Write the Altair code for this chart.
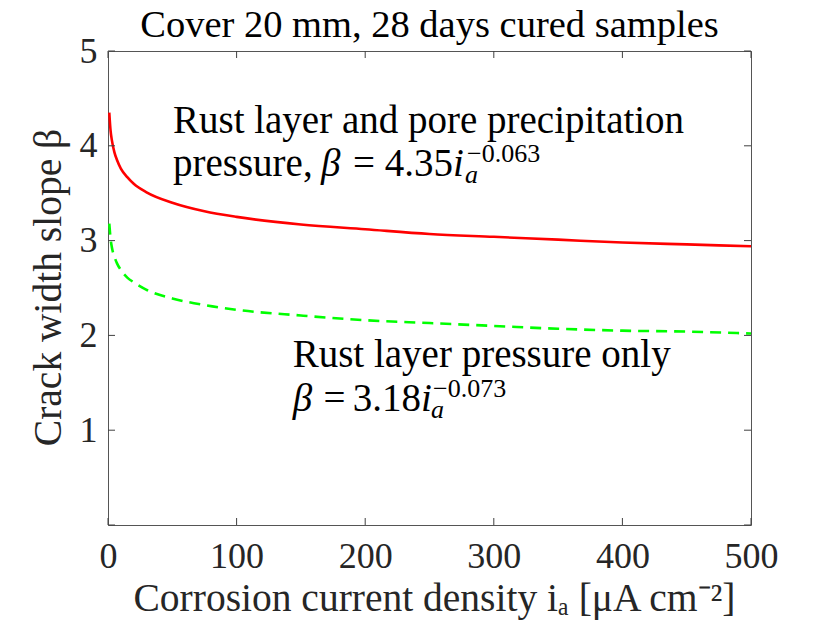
import altair as alt
import pandas as pd

# ---- data ----
ia_vals = [1, 2, 3, 5, 7, 10, 15, 20, 30, 50, 75, 100, 150, 200, 250, 300, 350, 400, 450, 500]
beta_rust_pore = [4.35, 4.16, 4.06, 3.93, 3.85, 3.76, 3.67, 3.60, 3.51, 3.40, 3.31, 3.25,
                  3.17, 3.12, 3.07, 3.04, 3.01, 2.98, 2.96, 2.94]
beta_rust_only = [3.18, 3.02, 2.93, 2.83, 2.76, 2.69, 2.61, 2.56, 2.48, 2.39, 2.32, 2.27,
                  2.21, 2.16, 2.13, 2.10, 2.07, 2.05, 2.04, 2.02]
x_ticks = [0, 100, 200, 300, 400, 500]
y_ticks = [1, 2, 3, 4, 5]

title_text = "Cover 20 mm, 28 days cured samples"
x_title = "Corrosion current density iₐ [μA cm⁻²]"
y_title = "Crack width slope β"

# annotation pieces (text, anchor in data units)
ann_text = ["Rust layer and pore precipitation", "pressure,", "β", "=", "4.35", "i", "−0.063", "a",
            "Rust layer pressure only", "β", "=", "3.18", "i", "−0.073", "a",
            title_text]
ann_ia = [50.5, 50.5, 165.6, 190.5, 268.3, 268.3, 279.2, 277.6,
          143.6, 143.6, 167.6, 243.4, 243.4, 252.7, 251.2,
          250.0]
ann_beta = [4.135, 3.681, 3.681, 3.681, 3.681, 3.681, 3.829, 3.608,
            1.667, 1.203, 1.203, 1.203, 1.203, 1.350, 1.129,
            5.148]
ann_kind = ["nl", "nl", "il", "nl", "nr", "il", "sup", "sub",
            "nl", "il", "nl", "nr", "il", "sup", "sub",
            "title"]

FONT = "Liberation Serif"
n = len(ia_vals)
curves = pd.DataFrame({
    "ia": ia_vals * 2,
    "beta": beta_rust_pore + beta_rust_only,
    "series": ["pore"] * n + ["rust"] * n,
})
ann = pd.DataFrame({"ia": ann_ia, "beta": ann_beta, "text": ann_text, "kind": ann_kind})
xt = pd.DataFrame({"ia": x_ticks})
yt = pd.DataFrame({"beta": [0] + y_ticks})

W, H = 643, 474
xscale = alt.Scale(domain=[0, 500], nice=False)
yscale = alt.Scale(domain=[0, 5], nice=False)

x_enc = alt.X("ia:Q", scale=xscale, axis=alt.Axis(
    values=x_ticks, format="d", title=x_title, ticks=False, domain=False, grid=False,
    labelFontSize=36, labelPadding=14, labelBaseline="top", labelFlush=False, labelOverlap=False,
    labelColor="#262626", titleFontSize=39.5, titleFontWeight="normal", titleColor="#262626",
    titleX=326, titleY=85, titleAlign="center", titleBaseline="alphabetic"))
y_enc = alt.Y("beta:Q", scale=yscale, axis=alt.Axis(
    values=y_ticks, format="d", title=y_title, ticks=False, domain=False, grid=False,
    labelFontSize=36, labelPadding=11, labelFlush=False, labelOverlap=False, labelBaseline="middle",
    labelColor="#262626", titleFontSize=39.5, titleFontWeight="normal", titleColor="#262626",
    titleAngle=270, titleX=-47.5, titleY=236, titleAlign="center", titleBaseline="alphabetic"))

base = alt.Chart(curves)
red = base.transform_filter("datum.series == 'pore'").mark_line(
    color="#ff0000", strokeWidth=2.6, interpolate="monotone").encode(x=x_enc, y=y_enc)
green = base.transform_filter("datum.series == 'rust'").mark_line(
    color="#00ff00", strokeWidth=2.6, strokeDash=[11, 7], interpolate="monotone").encode(x=x_enc, y=y_enc)

TL = 7
tick_col = "#404040"
xb = alt.Chart(xt).mark_rule(color=tick_col, strokeWidth=1).encode(x=x_enc, y=alt.value(H), y2=alt.value(H - TL))
xtp = alt.Chart(xt).mark_rule(color=tick_col, strokeWidth=1).encode(x=x_enc, y=alt.value(0), y2=alt.value(TL))
yl = alt.Chart(yt).mark_rule(color=tick_col, strokeWidth=1).encode(y=y_enc, x=alt.value(0), x2=alt.value(TL))
yr = alt.Chart(yt).mark_rule(color=tick_col, strokeWidth=1).encode(y=y_enc, x=alt.value(W), x2=alt.value(W - TL))

def txt(kind, size, style, align):
    return alt.Chart(ann).transform_filter(f"datum.kind == '{kind}'").mark_text(
        font=FONT, fontSize=size, fontStyle=style, align=align, baseline="alphabetic", color="#000000"
    ).encode(x=x_enc, y=y_enc, text="text:N")

texts = [
    txt("nl", 39, "normal", "left"),
    txt("il", 39, "italic", "left"),
    txt("nr", 39, "normal", "right"),
    txt("sup", 26, "normal", "left"),
    txt("sub", 26, "italic", "left"),
    txt("title", 38.5, "normal", "center"),
]

chart = alt.layer(red, green, xb, xtp, yl, yr, *texts).properties(
    width=W, height=H,
    autosize=alt.AutoSizeParams(type="none"),
    padding={"left": 100, "top": 43, "right": 60, "bottom": 95},
).configure(font=FONT).configure_view(stroke="#555555", strokeWidth=1)

chart.save("out.html", embed_options={"renderer": "svg", "actions": False})
